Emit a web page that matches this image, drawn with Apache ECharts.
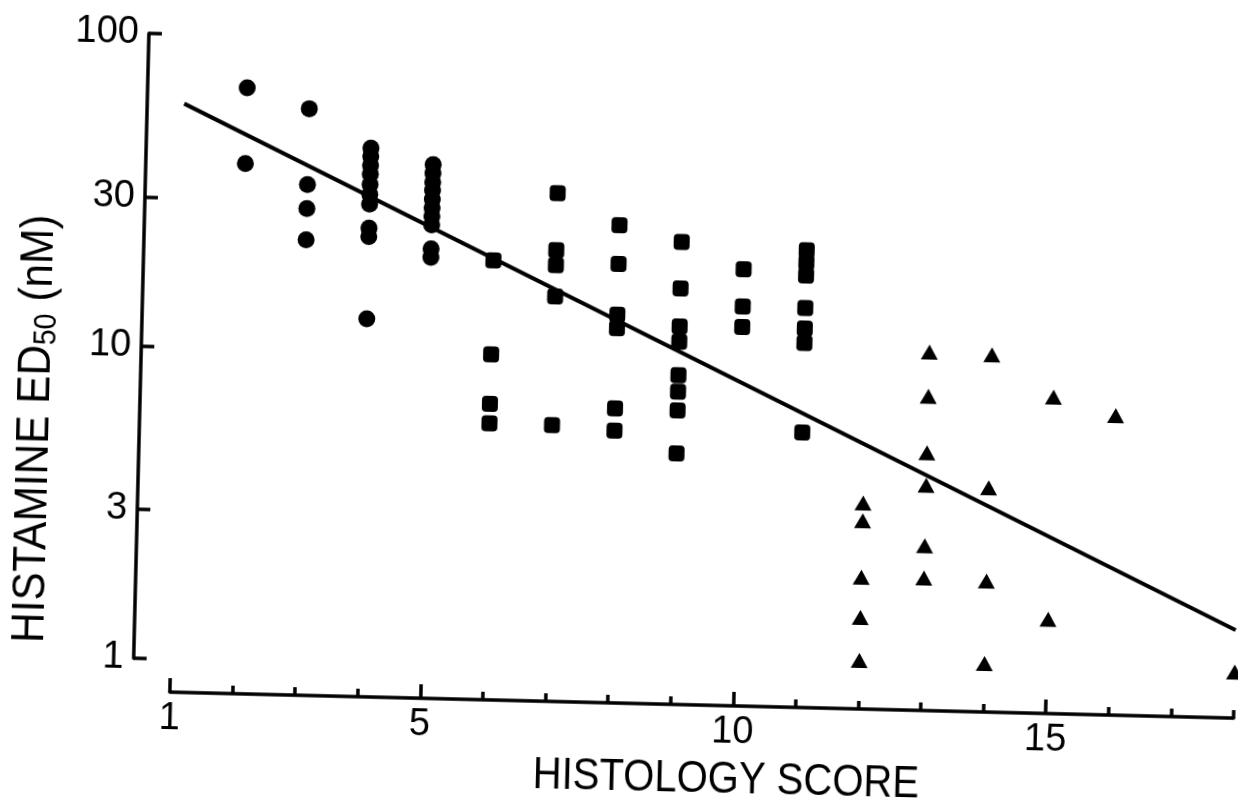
<!DOCTYPE html>
<html>
<head>
<meta charset="utf-8">
<title>Histamine ED50 vs histology score</title>
<script src="https://cdn.jsdelivr.net/npm/echarts@6/dist/echarts.min.js"></script>
<style>
  html, body { margin: 0; padding: 0; width: 1238px; height: 810px; overflow: hidden; background: #fff; }
  /* the plate sits slightly turned on the page */
  #chart { position: absolute; left: -40px; top: -20px; width: 1318px; height: 850px;
           transform: rotate(1.4deg); transform-origin: 50% 50%; }
</style>
</head>
<body>
<div id="chart"></div>
<script>
// Low histology scores (circles)
const circleScores = [2, 2, 3, 3, 3, 3, 4, 4, 4, 4, 4, 4, 4, 4, 4, 4, 5, 5, 5, 5, 5, 5, 5, 5, 5, 5];
const circleEd50   = [68.2, 39.0, 59.1, 33.8, 28.3, 22.5,
                      44.7, 42.1, 39.4, 36.9, 34.2, 31.8, 29.6, 24.8, 23.3, 12.7,
                      40.0, 37.5, 35.2, 33.1, 31.0, 29.1, 27.4, 25.7, 21.5, 20.2];

// Intermediate scores (squares)
const squareScores = [6, 6, 6, 6, 7, 7, 7, 7, 7, 8, 8, 8, 8, 8, 8,
                      9, 9, 9, 9, 9, 9, 9, 9, 10, 10, 10, 11, 11, 11, 11, 11, 11, 11];
const squareEd50   = [20.0, 10.0, 6.95, 6.01,
                      33.2, 21.8, 19.5, 15.5, 6.0,
                      26.5, 19.9, 13.7, 12.4, 6.87, 5.83,
                      23.7, 16.8, 12.7, 11.35, 8.87, 7.85, 6.84, 4.98,
                      19.6, 14.9, 12.8,
                      22.8, 20.8, 18.9, 14.9, 12.8, 11.5, 5.95];

// High scores (triangles)
const triangleScores = [12, 12, 12, 12, 12, 13, 13, 13, 13, 13, 13, 14, 14, 14, 14, 15, 15, 16, 18];
const triangleEd50   = [3.58, 3.14, 2.07, 1.54, 1.12,
                        11.0, 7.94, 5.24, 4.12, 2.64, 2.08,
                        10.9, 4.09, 2.06, 1.12,
                        8.07, 1.57,
                        7.13,
                        1.10];

// Fitted regression line (straight on the log scale)
const fitScores = [1, 18];
const fitEd50   = [60, 1.5];

// Axis ticks and labels
const xLabelValues = [1, 5, 10, 15];
const yTickValues  = [1, 3, 10, 30, 100];

const FONT = '"Liberation Sans", Arial, sans-serif';
const INK = '#000';

const pairs = (xs, ys) => xs.map((x, i) => [x, ys[i]]);

const chart = echarts.init(document.getElementById('chart'), null, { renderer: 'canvas' });

const baseX = {
  type: 'value', position: 'bottom', min: 1, max: 18, interval: 1, offset: 33,
  splitLine: { show: false }
};

const markerStyle = { color: INK, opacity: 1, borderWidth: 0 };

chart.setOption({
  animation: false,
  backgroundColor: '#fff',
  grid: { left: 217, right: 37, top: 65, bottom: 160, containLabel: false, outerBoundsMode: 'none' },
  xAxis: [
    Object.assign({}, baseX, {
      axisLine: { show: true, lineStyle: { color: INK, width: 3.5 } },
      axisTick: { show: true, inside: true, length: 8, lineStyle: { color: INK, width: 3.5 } },
      axisLabel: { customValues: xLabelValues, margin: 8, fontSize: 38, color: INK, fontFamily: FONT }
    }),
    Object.assign({}, baseX, {
      axisLine: { show: false },
      axisTick: { show: true, inside: true, length: 14, customValues: xLabelValues,
                  lineStyle: { color: INK, width: 3.5 } },
      axisLabel: { show: false }
    })
  ],
  yAxis: {
    type: 'log', logBase: 10, min: 1, max: 100, offset: 37,
    splitLine: { show: false },
    axisLine: { show: true, lineStyle: { color: INK, width: 3.5 } },
    axisTick: { show: true, inside: true, length: 13, customValues: yTickValues,
                lineStyle: { color: INK, width: 3.5 } },
    axisLabel: { customValues: yTickValues, margin: 10, fontSize: 38, color: INK, fontFamily: FONT }
  },
  graphic: [
    {
      type: 'text', x: 76, y: 463, rotation: Math.PI / 2, scaleX: 0.92,
      style: {
        text: '{a|HISTAMINE ED}{s|50}{a| (nM)}',
        align: 'center', verticalAlign: 'middle', textAlign: 'center', textVerticalAlign: 'middle',
        fill: INK,
        rich: {
          a: { fontSize: 46, fontFamily: FONT, lineHeight: 50, fill: INK },
          s: { fontSize: 31, fontFamily: FONT, lineHeight: 40, verticalAlign: 'bottom', fill: INK }
        }
      }
    },
    {
      type: 'text', x: 775, y: 798, scaleX: 0.89,
      style: {
        text: 'HISTOLOGY SCORE',
        fontSize: 45, fontFamily: FONT, fill: INK,
        align: 'center', verticalAlign: 'middle', textAlign: 'center', textVerticalAlign: 'middle'
      }
    }
  ],
  series: [
    {
      name: 'fit', type: 'line', data: pairs(fitScores, fitEd50),
      showSymbol: false, silent: true, z: 1,
      lineStyle: { color: INK, width: 4, opacity: 1 }
    },
    {
      name: 'low', type: 'scatter', data: pairs(circleScores, circleEd50),
      symbol: 'circle', symbolSize: 17, silent: true, z: 2,
      itemStyle: markerStyle
    },
    {
      name: 'mid', type: 'scatter', data: pairs(squareScores, squareEd50),
      symbol: 'roundRect', symbolSize: 16, silent: true, z: 2,
      itemStyle: markerStyle
    },
    {
      name: 'high', type: 'scatter', data: pairs(triangleScores, triangleEd50),
      symbol: 'triangle', symbolSize: [17, 15], silent: true, z: 2, clip: false,
      itemStyle: markerStyle
    }
  ]
});
</script>
</body>
</html>
